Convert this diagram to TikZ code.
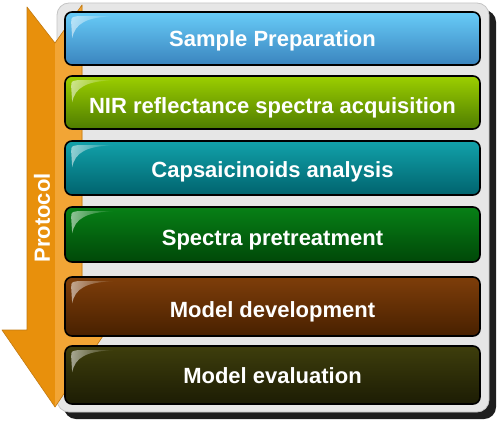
\documentclass[tikz,border=0pt]{standalone}
\usepackage{fontspec}
\setmainfont{Liberation Sans}
\usetikzlibrary{calc,fadings}
\definecolor{shadowc}{HTML}{1E1E1E}
\definecolor{panelc}{HTML}{E6E6E6}
\definecolor{panelline}{HTML}{C4C4C4}
\definecolor{arrL}{HTML}{E8900C}
\definecolor{arrR}{HTML}{F2A535}
\definecolor{arrE}{HTML}{C27A12}
\definecolor{bAt}{HTML}{68CCF8}\definecolor{bAb}{HTML}{3A84BE}
\definecolor{bBt}{HTML}{9CCF00}\definecolor{bBb}{HTML}{4E7C00}
\definecolor{bCt}{HTML}{12A2AA}\definecolor{bCb}{HTML}{00636E}
\definecolor{bDt}{HTML}{078016}\definecolor{bDb}{HTML}{004808}
\definecolor{bEt}{HTML}{7E3E0A}\definecolor{bEb}{HTML}{482000}
\definecolor{bFt}{HTML}{3E3E0C}\definecolor{bFb}{HTML}{1C1C04}
\newcommand\glossbox[1]{%
  \fill[white, fill opacity=.55, path fading=east]
    ($(#1.north west)+(8,27)$) -- ($(#1.north west)+(7,12)$)
    .. controls ($(#1.north west)+(7,6)$) .. ($(#1.north west)+(13,5)$)
    -- ($(#1.north west)+(50,5)$)
    .. controls ($(#1.north west)+(22,6)$) and ($(#1.north west)+(11,12)$) .. ($(#1.north west)+(8,27)$) -- cycle;}
\begin{document}
\begin{tikzpicture}[x=1pt,y=-1pt,
  stepbox/.style={draw=black, line width=1.6pt, rounded corners=7pt, minimum width=415pt, inner sep=0pt},
  lbl/.style={text=white, font=\fontsize{22}{26}\selectfont\bfseries, anchor=base, inner sep=0pt},
]
\useasboundingbox (0,0) rectangle (497,420);
% panel with shadow
\fill[shadowc, rounded corners=12pt] (64,10) rectangle (496,419);
\filldraw[fill=panelc, draw=panelline, line width=0.8pt, rounded corners=12pt] (57,3) rectangle (489,412);
% arrow
\fill[arrL] (27,7) -- (55,43) -- (82,5) -- (82,330) -- (107,330) -- (55,407) -- (2,330) -- (27,330) -- cycle;
\fill[arrR] (55,43) -- (82,5) -- (82,330) -- (107,330) -- (55,407) -- cycle;
\draw[arrE, line width=0.6pt, line join=round] (27,7) -- (55,43) -- (82,5) -- (82,330) -- (107,330) -- (55,407) -- (2,330) -- (27,330) -- cycle;
\node[rotate=90, text=white, font=\fontsize{22}{26}\selectfont\bfseries, inner sep=0pt] (proto) at (42,218) {Protocol};
% boxes
\node[stepbox, minimum height=53pt, top color=bAt, bottom color=bAb] (b1) at (272.5,38.5) {};
\node[stepbox, minimum height=53pt, top color=bBt, bottom color=bBb] (b2) at (272.5,102.5) {};
\node[stepbox, minimum height=54pt, top color=bCt, bottom color=bCb] (b3) at (272.5,168) {};
\node[stepbox, minimum height=55pt, top color=bDt, bottom color=bDb] (b4) at (272.5,234.5) {};
\node[stepbox, minimum height=59pt, top color=bEt, bottom color=bEb] (b5) at (272.5,306.5) {};
\node[stepbox, minimum height=58pt, top color=bFt, bottom color=bFb] (b6) at (272.5,375) {};
\glossbox{b1}\glossbox{b2}\glossbox{b3}\glossbox{b4}\glossbox{b5}\glossbox{b6}
% labels
\node[lbl] (t1) at (272.5,47) {Sample Preparation};
\node[lbl] (t2) at (272.5,113) {NIR reflectance spectra acquisition};
\node[lbl] (t3) at (272.5,177) {Capsaicinoids analysis};
\node[lbl] (t4) at (272.5,245) {Spectra pretreatment};
\node[lbl] (t5) at (272.5,317) {Model development};
\node[lbl] (t6) at (272.5,383) {Model evaluation};
\end{tikzpicture}
\end{document}
